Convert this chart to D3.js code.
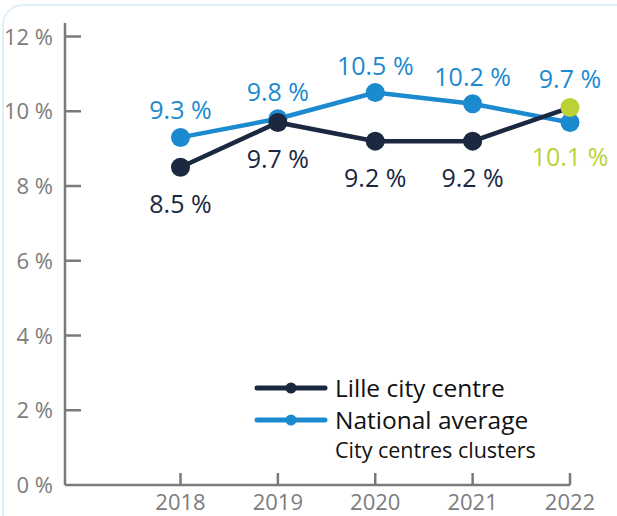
<!DOCTYPE html>
<html>
<head>
<meta charset="utf-8">
<style>
body { margin: 0; background: #fff; }
svg { font-family: "Open Sans", sans-serif; }
.axis-line { stroke: #7a7a7a; stroke-width: 2.5; fill: none; }
.tick-label { fill: #7c7c7c; font-size: 22px; }
.line { fill: none; stroke-width: 4.5; }
.val { font-size: 25px; text-anchor: middle; }
.legend text { fill: #111; }
</style>
</head>
<body>
<svg width="617" height="516"></svg>
<script src="https://cdn.jsdelivr.net/npm/d3@7"></script>
<script>
// data
var years = [2018, 2019, 2020, 2021, 2022];
var lille = [8.5, 9.7, 9.2, 9.2, 10.1];
var national = [9.3, 9.8, 10.5, 10.2, 9.7];
var yTicks = [0, 2, 4, 6, 8, 10, 12];

var navy = "#1a2840", blue = "#1b8acf", green = "#bcd137";

var svg = d3.select("svg");

// light rounded frame
svg.append("rect")
  .attr("x", 3).attr("y", 5)
  .attr("width", 640).attr("height", 560)
  .attr("rx", 20)
  .attr("fill", "none")
  .attr("stroke", "#dff0fb")
  .attr("stroke-width", 2);

var x = d3.scaleLinear().domain([2018, 2022]).range([180.5, 570]);
var y = d3.scaleLinear().domain([0, 12]).range([485, 36.5]);

var x0 = 65;

// y axis
svg.append("line").attr("class", "axis-line")
  .attr("x1", x0).attr("x2", x0).attr("y1", 23).attr("y2", y(0));
var gy = svg.append("g");
gy.selectAll("line").data(yTicks.slice(1)).enter().append("line")
  .attr("class", "axis-line")
  .attr("x1", x0).attr("x2", x0 + 16)
  .attr("y1", function(d) { return y(d); })
  .attr("y2", function(d) { return y(d); });
gy.selectAll("text").data(yTicks).enter().append("text")
  .attr("class", "tick-label")
  .attr("x", 53)
  .attr("y", function(d) { return y(d) + 8; })
  .attr("text-anchor", "end")
  .text(function(d) { return d + " %"; });

// x axis
svg.append("line").attr("class", "axis-line")
  .attr("x1", x0).attr("x2", x(2022)).attr("y1", y(0)).attr("y2", y(0));
var gx = svg.append("g");
gx.selectAll("line").data(years).enter().append("line")
  .attr("class", "axis-line")
  .attr("x1", function(d) { return x(d); })
  .attr("x2", function(d) { return x(d); })
  .attr("y1", y(0)).attr("y2", y(0) - 12);
gx.selectAll("text").data(years).enter().append("text")
  .attr("class", "tick-label")
  .attr("x", function(d) { return x(d); })
  .attr("y", 510)
  .attr("text-anchor", "middle")
  .attr("font-size", "24px")
  .text(function(d) { return d; });

var line = d3.line()
  .x(function(d, i) { return x(years[i]); })
  .y(function(d) { return y(d); });

function fmt(v) { return v.toFixed(1) + " %"; }

// national average
svg.append("path").datum(national)
  .attr("class", "line").attr("stroke", blue).attr("d", line);
// lille
svg.append("path").datum(lille)
  .attr("class", "line").attr("stroke", navy).attr("d", line);

svg.selectAll(".pn").data(national).enter().append("circle")
  .attr("class", "pn")
  .attr("cx", function(d, i) { return x(years[i]); })
  .attr("cy", function(d) { return y(d); })
  .attr("r", 9.5)
  .attr("fill", blue);

svg.selectAll(".pl").data(lille).enter().append("circle")
  .attr("class", "pl")
  .attr("cx", function(d, i) { return x(years[i]); })
  .attr("cy", function(d) { return y(d); })
  .attr("r", 9.5)
  .attr("fill", function(d, i) { return i === lille.length - 1 ? green : navy; });

// value labels
svg.selectAll(".ln").data(national).enter().append("text")
  .attr("class", "val ln")
  .attr("x", function(d, i) { return x(years[i]); })
  .attr("y", function(d, i) { return i === 4 ? y(lille[4]) - 20 : y(d) - 18; })
  .attr("fill", blue)
  .text(fmt);

svg.selectAll(".ll").data(lille).enter().append("text")
  .attr("class", "val ll")
  .attr("x", function(d, i) { return x(years[i]); })
  .attr("y", function(d, i) { return i === 4 ? y(national[4]) + 44 : y(d) + 46; })
  .attr("fill", function(d, i) { return i === 4 ? green : navy; })
  .text(fmt);

// legend
var legend = svg.append("g").attr("class", "legend");
var items = [
  {name: "Lille city centre", color: navy, y: 388},
  {name: "National average", color: blue, y: 420}
];
items.forEach(function(it) {
  legend.append("line")
    .attr("x1", 257).attr("x2", 325)
    .attr("y1", it.y).attr("y2", it.y)
    .attr("stroke", it.color).attr("stroke-width", 5)
    .attr("stroke-linecap", "round");
  legend.append("circle")
    .attr("cx", 291).attr("cy", it.y).attr("r", 5.5)
    .attr("fill", it.color);
  legend.append("text")
    .attr("x", 335).attr("y", it.y + 9)
    .attr("font-size", "24.5px")
    .text(it.name);
});
legend.append("text")
  .attr("x", 335).attr("y", 458)
  .attr("font-size", "21.5px")
  .text("City centres clusters");
</script>
</body>
</html>
